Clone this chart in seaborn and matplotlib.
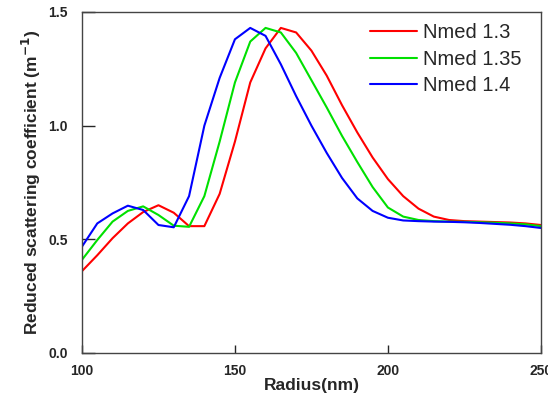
import pandas as pd
import matplotlib
matplotlib.use("Agg")
import matplotlib.pyplot as plt
import seaborn as sns

# Radius grid (nm) and reduced scattering coefficient for each medium index
radius = [100, 105, 110, 115, 120, 125, 130, 135, 140, 145, 150, 155, 160, 165,
          170, 175, 180, 185, 190, 195, 200, 205, 210, 215, 220, 225, 230, 235,
          240, 245, 250]
nmed_13 = [0.36, 0.43, 0.505, 0.57, 0.62, 0.65, 0.617, 0.558, 0.558, 0.70, 0.93,
           1.19, 1.34, 1.43, 1.41, 1.33, 1.22, 1.09, 0.97, 0.86, 0.765, 0.69,
           0.635, 0.60, 0.585, 0.58, 0.578, 0.576, 0.574, 0.57, 0.563]
nmed_135 = [0.41, 0.497, 0.578, 0.625, 0.645, 0.607, 0.56, 0.555, 0.69, 0.93,
            1.19, 1.37, 1.43, 1.41, 1.32, 1.20, 1.08, 0.955, 0.84, 0.73, 0.64,
            0.60, 0.585, 0.58, 0.578, 0.577, 0.575, 0.573, 0.57, 0.566, 0.558]
nmed_14 = [0.468, 0.57, 0.614, 0.648, 0.629, 0.563, 0.553, 0.69, 1.0, 1.21,
           1.38, 1.43, 1.395, 1.27, 1.13, 1.0, 0.88, 0.77, 0.68, 0.625, 0.595,
           0.583, 0.58, 0.578, 0.577, 0.575, 0.572, 0.568, 0.564, 0.558, 0.55]
labels = ["Nmed 1.3", "Nmed 1.35", "Nmed 1.4"]

df = pd.concat([
    pd.DataFrame({"radius": radius, "mus": vals, "series": lab})
    for lab, vals in zip(labels, [nmed_13, nmed_135, nmed_14])
])

sns.set_style("ticks")
plt.rcParams['font.family'] = ['Liberation Sans', 'DejaVu Sans']

fig = plt.figure(figsize=(5.48, 3.96), dpi=100)
ax = fig.add_axes([0.1496, 0.1086, 0.8374, 0.8611])

sns.lineplot(data=df, x="radius", y="mus", hue="series", hue_order=labels,
             palette=["#ff0000", "#00e000", "#0000ff"], linewidth=1.5, ax=ax)

ax.set_xlim(100, 250)
ax.set_ylim(0, 1.5)
ax.set_xticks([100, 150, 200, 250])
ax.set_yticks([0.0, 0.5, 1.0, 1.5])
ax.set_yticklabels(["0.0", "0.5", "1.0", "1.5"])
ax.tick_params(axis="x", direction="in", length=6, width=1, labelsize=10, pad=8)
ax.tick_params(axis="y", direction="in", length=9, width=1, labelsize=10, pad=10)
for lab in ax.get_xticklabels() + ax.get_yticklabels():
    lab.set_fontweight("bold")
for sp in ax.spines.values():
    sp.set_visible(True)
    sp.set_color("#444444")
    sp.set_linewidth(1.0)

ax.set_xlabel("Radius(nm)", fontsize=12.5, fontweight="bold", labelpad=0)
ax.set_ylabel("Reduced scattering coefficient (m$^{\\mathbf{-1}}$)", fontsize=12.5,
              fontweight="bold", labelpad=4)

ax.legend(loc="upper right", bbox_to_anchor=(0.975, 0.99), frameon=False,
          fontsize=14.5, handlelength=2.3, handletextpad=0.3, labelspacing=0.37,
          borderaxespad=0.0)

fig.savefig("out.png", dpi=100)
